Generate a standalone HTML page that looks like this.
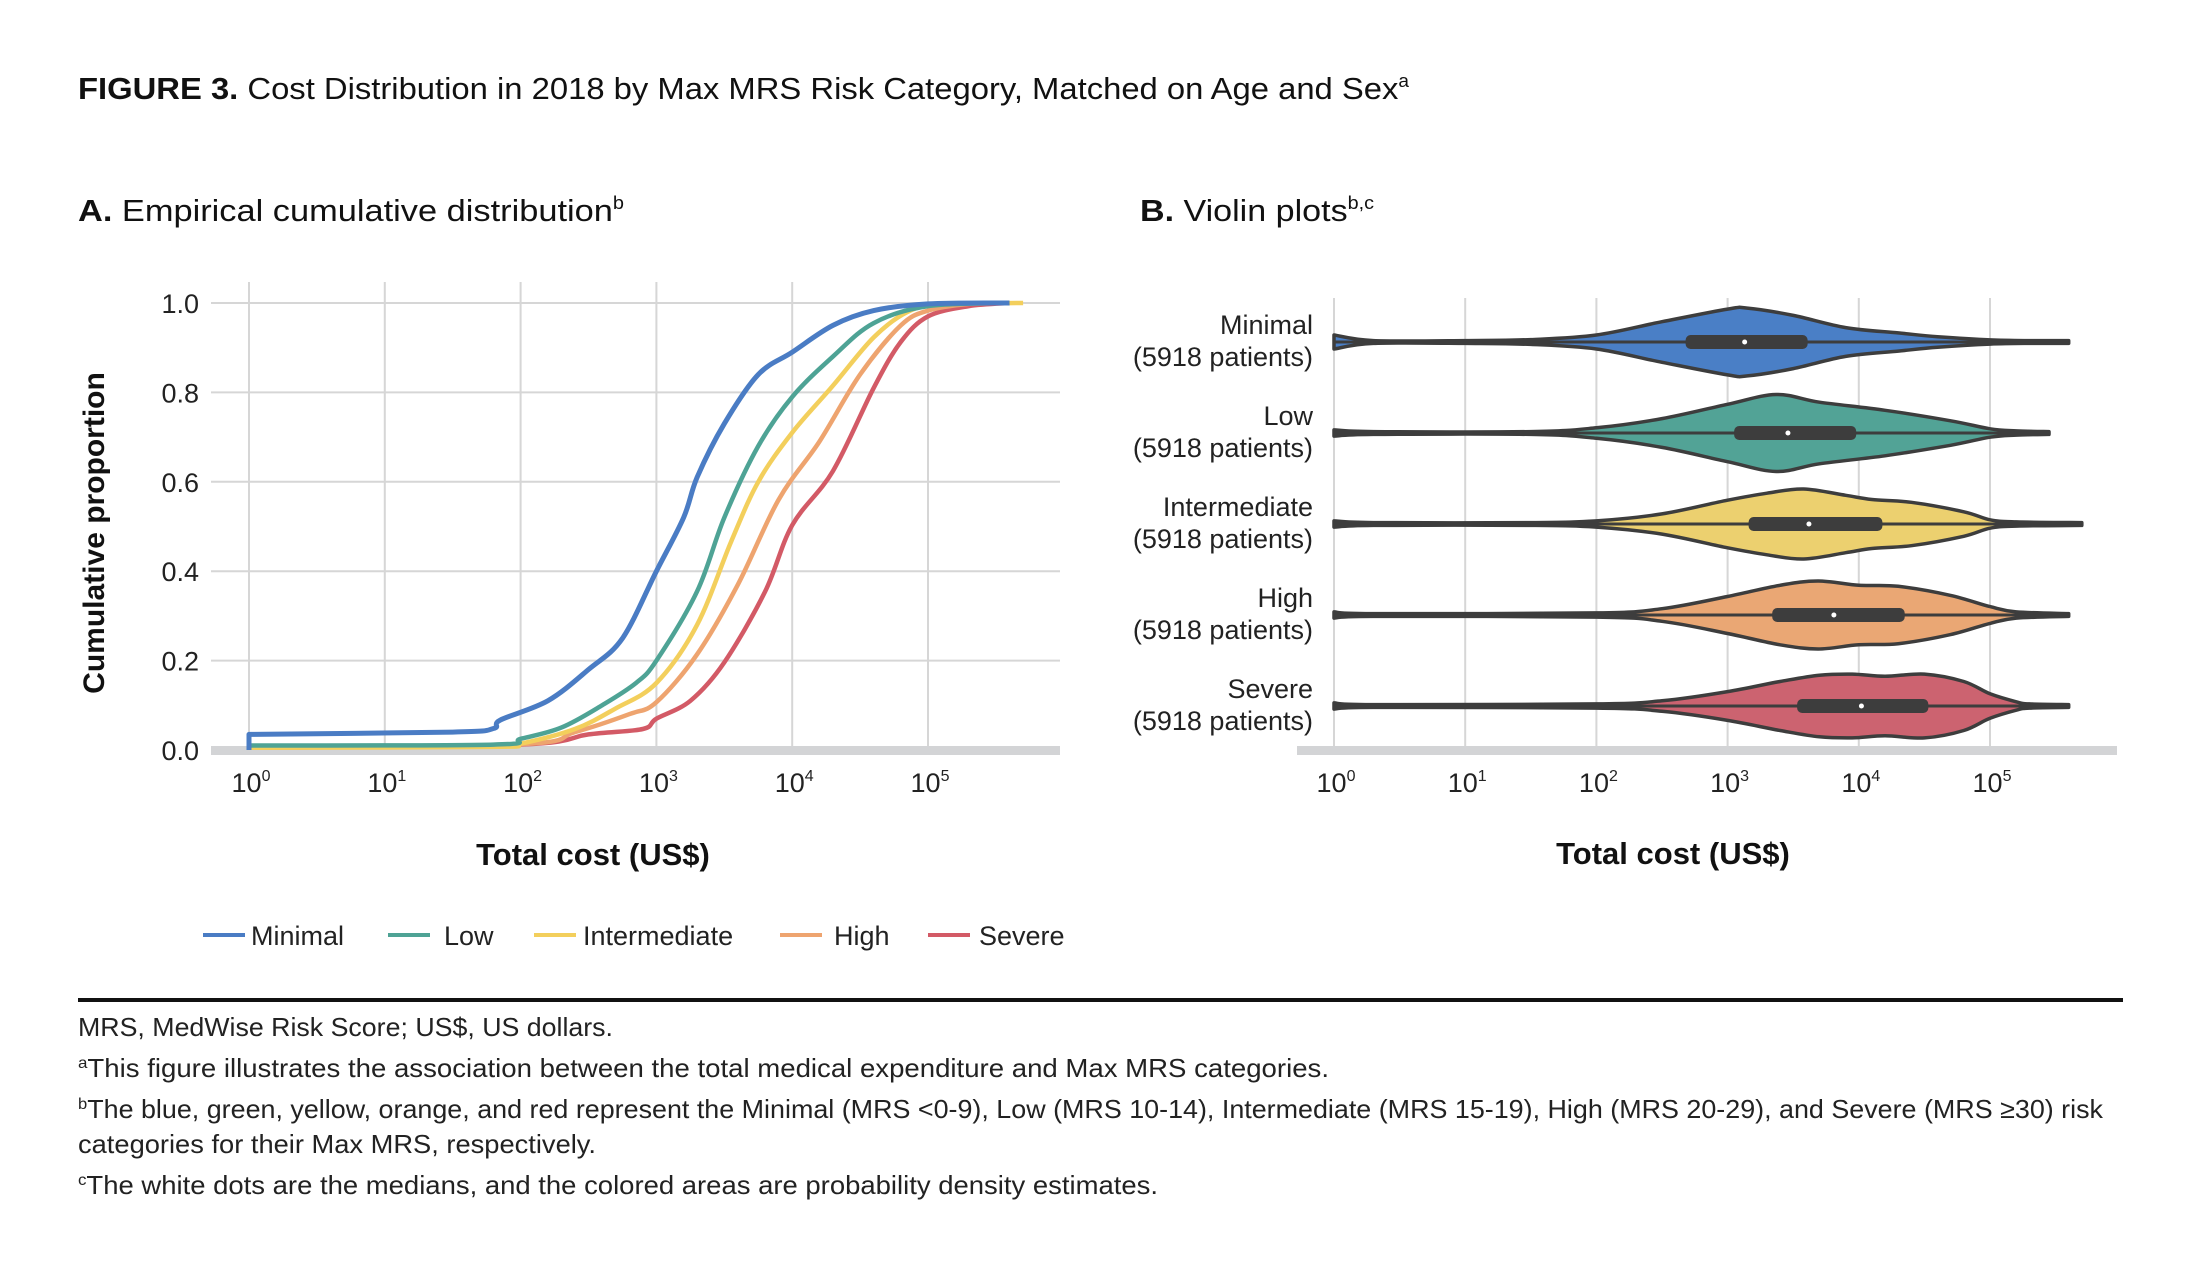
<!DOCTYPE html>
<html><head><meta charset="utf-8"><style>
html,body{margin:0;padding:0;background:#fff;}
svg{display:block;font-family:"Liberation Sans Narrow","Liberation Sans",sans-serif;}
.ft{font-family:"Liberation Sans Narrow","Liberation Sans",sans-serif;font-size:26px;fill:#222;}
</style></head><body>
<svg id="fig" width="2187" height="1264" viewBox="0 0 2187 1264" xmlns="http://www.w3.org/2000/svg">
<text x="78" y="99" font-size="31" fill="#111" textLength="1331" lengthAdjust="spacingAndGlyphs"><tspan font-weight="bold" font-family="Liberation Sans">FIGURE 3.</tspan> Cost Distribution in 2018 by Max MRS Risk Category, Matched on Age and Sex<tspan font-size="18" dy="-12">a</tspan></text>
<text x="78" y="221" font-size="31" fill="#111" textLength="546" lengthAdjust="spacingAndGlyphs"><tspan font-weight="bold" font-family="Liberation Sans">A.</tspan> Empirical cumulative distribution<tspan font-size="18" dy="-12">b</tspan></text>
<text x="1140" y="221" font-size="31" fill="#111" textLength="234" lengthAdjust="spacingAndGlyphs"><tspan font-weight="bold" font-family="Liberation Sans">B.</tspan> Violin plots<tspan font-size="18" dy="-12">b,c</tspan></text>
<g id="ecdf"></g>
<g id="violin"></g>
<g id="legend"></g>
<rect x="78" y="998" width="2045" height="4" fill="#111"/>
<text class="ft" x="78" y="1036" textLength="535" lengthAdjust="spacingAndGlyphs">MRS, MedWise Risk Score; US$, US dollars.</text>
<text class="ft" x="78" y="1077" textLength="1251" lengthAdjust="spacingAndGlyphs"><tspan font-size="16" dy="-9">a</tspan><tspan dy="9">This figure illustrates the association between the total medical expenditure and Max MRS categories.</tspan></text>
<text class="ft" x="78" y="1118" textLength="2025" lengthAdjust="spacingAndGlyphs"><tspan font-size="16" dy="-9">b</tspan><tspan dy="9">The blue, green, yellow, orange, and red represent the Minimal (MRS &lt;0-9), Low (MRS 10-14), Intermediate (MRS 15-19), High (MRS 20-29), and Severe (MRS ≥30) risk</tspan></text>
<text class="ft" x="78" y="1153" textLength="518" lengthAdjust="spacingAndGlyphs">categories for their Max MRS, respectively.</text>
<text class="ft" x="78" y="1194" textLength="1080" lengthAdjust="spacingAndGlyphs"><tspan font-size="16" dy="-9">c</tspan><tspan dy="9">The white dots are the medians, and the colored areas are probability density estimates.</tspan></text>
</svg>
<script>
// ---- data ----
const categories = ["Minimal","Low","Intermediate","High","Severe"];
const colors = ["#4a7cc4","#4ea395","#f3cf5c","#eea46f","#d35a66"];
const violinFill = ["#4a7fc6","#52a396","#ecd06f","#eaa774","#cc6370"];
const xTicks = [0,1,2,3,4,5];
const yTicks = [0,0.2,0.4,0.6,0.8,1.0];
const yTickLabels = ["0.0","0.2","0.4","0.6","0.8","1.0"];
const patients = [5918,5918,5918,5918,5918];
// ECDF: log10 cost, cumulative proportion
const ecdfX_Minimal = [0,0,1.5,1.8,1.85,2.2,2.5,2.75,3.0,3.2,3.3,3.5,3.75,4.0,4.3,4.6,5.0,5.6];
const ecdfY_Minimal = [0,0.035,0.04,0.048,0.067,0.11,0.18,0.25,0.40,0.52,0.61,0.73,0.84,0.89,0.95,0.983,0.998,1.0];
const ecdfX_Low = [0,1.8,2.0,2.3,2.6,2.85,3.0,3.3,3.5,3.75,4.0,4.3,4.6,5.0,5.6];
const ecdfY_Low = [0.01,0.012,0.025,0.05,0.1,0.15,0.2,0.355,0.52,0.68,0.79,0.88,0.955,0.993,1.0];
const ecdfX_Intermediate = [0,1.8,2.0,2.4,2.7,3.0,3.3,3.55,3.75,4.0,4.3,4.6,4.85,5.1,5.7];
const ecdfY_Intermediate = [0.005,0.007,0.014,0.047,0.093,0.15,0.28,0.466,0.6,0.71,0.815,0.923,0.98,0.997,1.0];
const ecdfX_High = [0,2.0,2.4,2.8,3.0,3.3,3.6,3.9,4.2,4.5,4.8,5.0,5.3,5.6];
const ecdfY_High = [0.005,0.013,0.04,0.08,0.107,0.214,0.37,0.56,0.69,0.84,0.95,0.983,0.998,1.0];
const ecdfX_Severe = [0,2.0,2.5,2.9,3.0,3.25,3.5,3.8,4.0,4.3,4.6,4.8,5.0,5.3,5.6];
const ecdfY_Severe = [0.005,0.012,0.035,0.047,0.07,0.11,0.196,0.354,0.503,0.624,0.81,0.913,0.97,0.993,1.0];
// Violin density profiles: log10 cost, relative density (0..1)
const densX_Minimal = [0,0.3,1,1.5,2,2.5,3,3.15,3.5,3.9,4.3,4.6,5,5.3,5.6];
const densY_Minimal = [0.2,0.04,0.04,0.07,0.2,0.58,0.94,0.97,0.76,0.41,0.26,0.15,0.06,0.04,0.04];
const densX_Low = [0,0.3,1.5,2,2.5,3,3.37,3.7,4.2,4.7,5,5.2,5.45];
const densY_Low = [0.09,0.04,0.04,0.15,0.41,0.82,1.1,0.88,0.65,0.35,0.12,0.06,0.04];
const densX_Intermediate = [0,0.3,1.5,2,2.5,3,3.3,3.58,3.9,4.1,4.4,4.8,5,5.2,5.7];
const densY_Intermediate = [0.09,0.04,0.04,0.09,0.29,0.68,0.88,1.0,0.82,0.7,0.62,0.35,0.12,0.06,0.04];
const densX_High = [0,0.3,2,2.5,3,3.4,3.69,4,4.3,4.7,5,5.2,5.6];
const densY_High = [0.09,0.04,0.06,0.18,0.53,0.85,0.97,0.85,0.82,0.56,0.24,0.09,0.04];
const densX_Severe = [0,0.3,2,2.5,3,3.4,3.7,3.95,4.2,4.5,4.8,5,5.2,5.3,5.6];
const densY_Severe = [0.09,0.04,0.06,0.15,0.41,0.7,0.88,0.91,0.85,0.91,0.7,0.35,0.12,0.06,0.04];
const q1 = [2.68,3.05,3.16,3.34,3.53];
const medians = [3.13,3.46,3.62,3.81,4.02];
const q3 = [3.61,3.98,4.18,4.35,4.53];

const ecdfXs=[ecdfX_Minimal,ecdfX_Low,ecdfX_Intermediate,ecdfX_High,ecdfX_Severe];
const ecdfYs=[ecdfY_Minimal,ecdfY_Low,ecdfY_Intermediate,ecdfY_High,ecdfY_Severe];
const densXs=[densX_Minimal,densX_Low,densX_Intermediate,densX_High,densX_Severe];
const densYs=[densY_Minimal,densY_Low,densY_Intermediate,densY_High,densY_Severe];

const NS="http://www.w3.org/2000/svg";
function mk(tag,attrs,parent){const e=document.createElementNS(NS,tag);for(const k in attrs)e.setAttribute(k,attrs[k]);parent.appendChild(e);return e;}
function tickLabel(parent,x,y,p){const t=mk('text',{x:x,y:y,'font-size':27,fill:'#222','text-anchor':'middle'},parent);t.textContent='10';const s=mk('tspan',{'font-size':16,dy:-11},t);s.textContent=p;return t;}
// smooth curve through points (Catmull-Rom -> cubic bezier), continuing an existing path if cont
function smooth(pts,cont){
 let d=cont?'':'M'+pts[0][0].toFixed(1)+','+pts[0][1].toFixed(1);
 if(cont) d='L'+pts[0][0].toFixed(1)+','+pts[0][1].toFixed(1);
 for(let i=0;i<pts.length-1;i++){
  const p0=pts[Math.max(0,i-1)],p1=pts[i],p2=pts[i+1],p3=pts[Math.min(pts.length-1,i+2)];
  const t=6;
  const c1=[p1[0]+(p2[0]-p0[0])/t,p1[1]+(p2[1]-p0[1])/t];
  const c2=[p2[0]-(p3[0]-p1[0])/t,p2[1]-(p3[1]-p1[1])/t];
  if(c1[0]<p1[0])c1[0]=p1[0]; if(c2[0]>p2[0])c2[0]=p2[0];
  d+='C'+c1[0].toFixed(1)+','+c1[1].toFixed(1)+' '+c2[0].toFixed(1)+','+c2[1].toFixed(1)+' '+p2[0].toFixed(1)+','+p2[1].toFixed(1);
 }
 return d;
}

// ---- ECDF ----
const A=document.getElementById('ecdf');
const ax=v=>249+v*135.8, ay=v=>750-v*447;
xTicks.forEach(v=>{const l=mk('line',{x1:ax(v),x2:ax(v),y1:282,y2:750,stroke:'#d6d6d6','stroke-width':2},A);


const t=tickLabel(A,ax(v)+2,792,v);

});
yTicks.forEach((v,i)=>{if(v>0){const l=mk('line',{x1:211,x2:1060,y1:ay(v),y2:ay(v),stroke:'#d6d6d6','stroke-width':2},A);

}
const t=mk('text',{x:199,y:ay(v)+10,'font-size':27,fill:'#222','text-anchor':'end'},A);t.textContent=yTickLabels[i];

});
const base=mk('rect',{x:211,y:746,width:849,height:9,fill:'#d3d4d6'},A);


for(let c=categories.length-1;c>=0;c--){
 const pts=ecdfXs[c].map((x,i)=>[ax(x),ay(ecdfYs[c][i])]);
 let d;
 if(pts.length>1&&pts[0][0]===pts[1][0]){d='M'+pts[0][0]+','+pts[0][1]+smooth(pts.slice(1),true);}
 else d=smooth(pts,false);
 const p=mk('path',{d:d,fill:'none',stroke:colors[c],'stroke-width':c===0?5:4.5,'stroke-linejoin':'round'},A);
 
 
}
const yt=mk('text',{x:0,y:0,'font-size':30,'font-weight':'bold','font-family':'Liberation Sans',fill:'#111','text-anchor':'middle',transform:'translate(104,533) rotate(-90)'},A);yt.textContent='Cumulative proportion';


const xt=mk('text',{x:593,y:865,'font-size':31,'font-weight':'bold',fill:'#111','text-anchor':'middle'},A);xt.textContent='Total cost (US$)';



// ---- Violin ----
const B=document.getElementById('violin');
const bx=v=>1334+v*131.2, rowY=i=>342+i*91, HALF=35;
xTicks.forEach(v=>{const l=mk('line',{x1:bx(v),x2:bx(v),y1:298,y2:750,stroke:'#d6d6d6','stroke-width':2},B);


const t=tickLabel(B,bx(v)+2,792,v);

});
const base2=mk('rect',{x:1297,y:746,width:820,height:9,fill:'#d3d4d6'},B);


categories.forEach((cat,i)=>{
 const cy=rowY(i),xs=densXs[i],ys=densYs[i];
 const top=xs.map((x,j)=>[bx(x),cy-ys[j]*HALF]);
 const bot=xs.map((x,j)=>[bx(x),cy+ys[j]*HALF]);
 const x0=bx(xs[0]),x1=bx(xs[xs.length-1]);
 let d='M'+x0+','+cy+smooth(top,true)+'L'+x1+','+cy;
 // bottom path reversed: build forward then reverse by mirroring
 const botRev=bot.slice().reverse().map(p=>[-p[0],p[1]]);
 const sb=smooth(botRev,true).replace(/-?\d+\.?\d*,/g,m=>{const v=parseFloat(m);return (-v).toFixed(1)+',';});
 d+=sb+'Z';
 const p=mk('path',{d:d,fill:violinFill[i],stroke:'#3d3d3d','stroke-width':3.5,'stroke-linejoin':'round'},B);
 
 
 const w=mk('line',{x1:x0,x2:x1,y1:cy,y2:cy,stroke:'#3d3d3d','stroke-width':3},B);
 
 
 const r=mk('rect',{x:bx(q1[i]),y:cy-7,width:bx(q3[i])-bx(q1[i]),height:14,rx:5,fill:'#3d3d3d'},B);
 
 
 const m=mk('circle',{cx:bx(medians[i]),cy:cy,r:2.5,fill:'#fff'},B);
 
 
 const t1=mk('text',{x:1313,y:cy-8,'font-size':27,fill:'#222','text-anchor':'end'},B);t1.textContent=cat;
 
 
 const t2=mk('text',{x:1313,y:cy+24,'font-size':27,fill:'#222','text-anchor':'end'},B);t2.textContent='('+patients[i]+' patients)';
 
 
});
const xt2=mk('text',{x:1673,y:864,'font-size':31,'font-weight':'bold',fill:'#111','text-anchor':'middle'},B);xt2.textContent='Total cost (US$)';



// ---- Legend ----
const L=document.getElementById('legend');
const legLine=[203,388,534,780,928], legText=[251,444,583,834,979];
categories.forEach((cat,i)=>{
 const g=mk('g',{},L);
 
 
 mk('line',{x1:legLine[i],x2:legLine[i]+42,y1:935,y2:935,stroke:colors[i],'stroke-width':4},g);
 const t=mk('text',{x:legText[i],y:945,'font-size':27,fill:'#222'},g);t.textContent=cat;
});
</script>
</body></html>
